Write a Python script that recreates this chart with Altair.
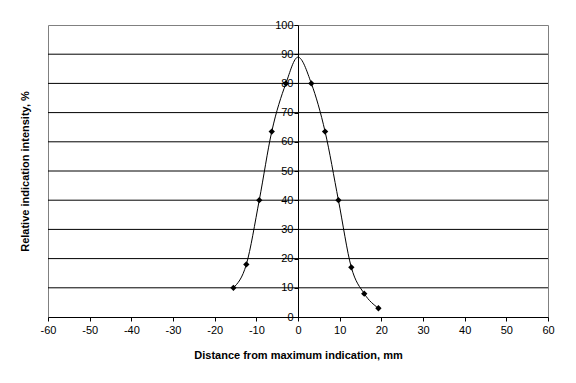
import altair as alt
import pandas as pd

# measured points
pt_x = [-15.5, -12.4, -9.3, -6.3, -2.9, 3.2, 6.5, 9.7, 12.8, 15.9, 19.3]
pt_y = [10, 18, 40, 63.5, 80, 80, 63.5, 40, 17, 8, 3]

# smoothed curve
cv_x = [-15.5, -12.4, -9.3, -6.3, -2.9, 0, 3.2, 6.5, 9.7, 12.8, 15.9, 19.3]
cv_y = [10, 18, 40, 63.5, 80, 89, 80, 63.5, 40, 17, 8, 3]

x_ticks = list(range(-60, 61, 10))
y_ticks = list(range(0, 101, 10))
grid_y = [10, 20, 30, 40, 50, 60, 70, 80, 90]

pts = pd.DataFrame({"x": pt_x, "y": pt_y})
curve = pd.DataFrame({"x": cv_x, "y": cv_y})
grid = pd.DataFrame({"y": grid_y})

FONT = "Liberation Sans"

xscale = alt.Scale(domain=[-60, 60], nice=False, zero=False)
yscale = alt.Scale(domain=[0, 100], nice=False)

xaxis = alt.Axis(
    values=x_ticks, title="Distance from maximum indication, mm",
    grid=False, domainColor="black", tickColor="black", tickSize=4,
    labelColor="black", labelFont=FONT, labelFontSize=11, labelPadding=3,
    labelOverlap=False, labelFlush=False,
    labelExpr="toString(datum.value)",
    titleFont=FONT, titleFontSize=11, titleFontWeight="bold", titleColor="black",
    titlePadding=14,
)
yaxis = alt.Axis(
    values=y_ticks, tickCount=11, title="Relative indication intensity, %",
    offset=-250, grid=False,
    domainColor="black", tickColor="black", tickSize=4,
    labelColor="black", labelFont=FONT, labelFontSize=11, labelPadding=1,
    labelOverlap=False, labelFlush=False,
    labelExpr="toString(datum.value)",
    titleFont=FONT, titleFontSize=11, titleFontWeight="bold", titleColor="black",
    titleX=-268,
)

gridlines = alt.Chart(grid).mark_rule(color="black", strokeWidth=1).encode(
    y=alt.Y("y:Q", scale=yscale, axis=yaxis),
)
line = alt.Chart(curve).mark_line(color="black", strokeWidth=1, interpolate="monotone").encode(
    x=alt.X("x:Q", scale=xscale, axis=xaxis),
    y=alt.Y("y:Q", scale=yscale, axis=yaxis),
)
points = alt.Chart(pts).mark_point(shape="diamond", filled=True, color="black", size=40, opacity=1).encode(
    x=alt.X("x:Q", scale=xscale, axis=xaxis),
    y=alt.Y("y:Q", scale=yscale, axis=yaxis),
)

chart = (gridlines + line + points).properties(
    width=500, height=292,
    autosize=alt.AutoSizeParams(type="none"),
    padding={"left": 40, "top": 17, "right": 20, "bottom": 50},
    background="white",
).configure_view(stroke="#808080", strokeWidth=1)

chart.save("out.html", embed_options={"renderer": "svg", "actions": False})
